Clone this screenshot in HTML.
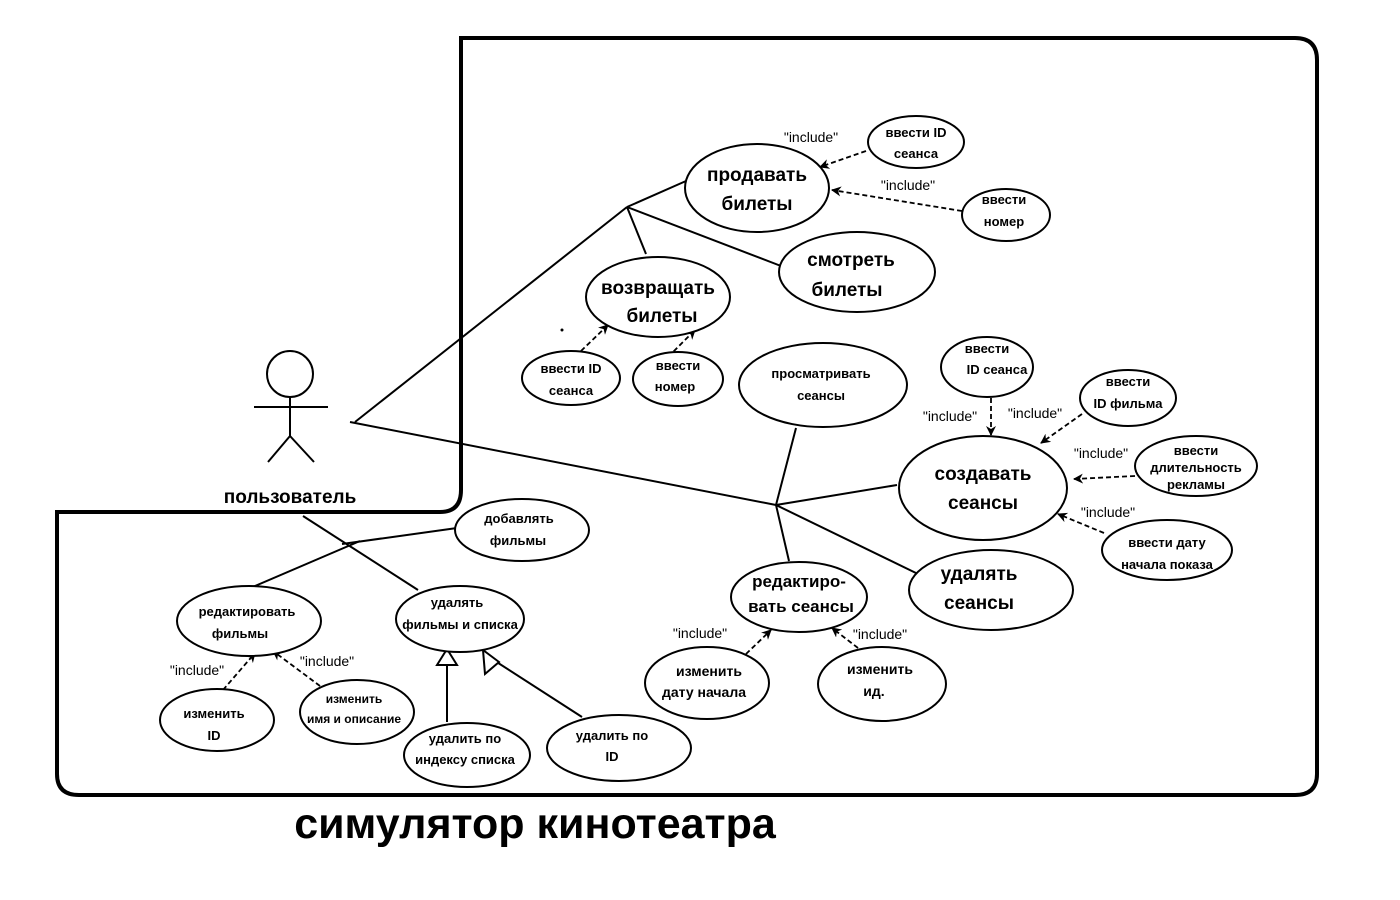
<!DOCTYPE html>
<html><head><meta charset="utf-8"><style>
html,body{margin:0;padding:0;background:#fff;}
svg{display:block;}
text{font-family:"Liberation Sans","DejaVu Sans",sans-serif;fill:#000;text-anchor:middle;font-weight:bold;}
.s{font-size:13px;}
.m{font-size:14px;}
.l{font-size:19px;}
.i{font-size:14px;font-weight:normal;}
ellipse{fill:#fff;stroke:#000;stroke-width:2;}
.ln{stroke:#000;stroke-width:2;fill:none;}
.d{stroke:#000;stroke-width:1.8;fill:none;stroke-dasharray:5,3;}
</style></head><body>
<svg width="1400" height="900" viewBox="0 0 1400 900" xmlns="http://www.w3.org/2000/svg">
<defs>
<marker id="a" markerWidth="10" markerHeight="10" refX="9" refY="5" orient="auto" markerUnits="userSpaceOnUse"><path d="M0,0 L10,5 L0,10 L3,5 Z" fill="#000"/></marker>
</defs>
<path d="M461,38 L1295,38 Q1317,38 1317,60 L1317,774 Q1317,795 1295,795 L79,795 Q57,795 57,774 L57,512 L440,512 Q461,512 461,490 Z" fill="none" stroke="#000" stroke-width="4"/>
<!-- actor -->
<circle cx="290" cy="374" r="23" fill="#fff" stroke="#000" stroke-width="2"/>
<line class="ln" x1="290" y1="397" x2="290" y2="436"/>
<line class="ln" x1="254" y1="407" x2="328" y2="407"/>
<line class="ln" x1="290" y1="436" x2="268" y2="462"/>
<line class="ln" x1="290" y1="436" x2="314" y2="462"/>
<text x="290" y="503" class="l">пользователь</text>
<!-- association lines -->
<line class="ln" x1="355" y1="422" x2="627" y2="207"/>
<line class="ln" x1="627" y1="207" x2="686" y2="181"/>
<line class="ln" x1="627" y1="207" x2="646" y2="254"/>
<line class="ln" x1="627" y1="207" x2="781" y2="266"/>
<line class="ln" x1="350" y1="422" x2="776" y2="505"/>
<line class="ln" x1="776" y1="505" x2="796" y2="428"/>
<line class="ln" x1="776" y1="505" x2="897" y2="485"/>
<line class="ln" x1="776" y1="505" x2="918" y2="574"/>
<line class="ln" x1="776" y1="505" x2="789" y2="561"/>
<line class="ln" x1="303" y1="516" x2="418" y2="590"/>
<line class="ln" x1="342" y1="544" x2="457" y2="528"/>
<line class="ln" x1="360" y1="541" x2="248" y2="589"/>
<!-- generalization -->
<line class="ln" x1="447" y1="722" x2="447" y2="652"/>
<path d="M437,665 L447,649 L457,665 Z" fill="#fff" stroke="#000" stroke-width="2"/>
<line class="ln" x1="582" y1="717" x2="492" y2="659"/>
<path d="M485,674 L483,650 L499,662 Z" fill="#fff" stroke="#000" stroke-width="2"/>
<!-- dashed -->
<line class="d" x1="866" y1="151" x2="820" y2="167" marker-end="url(#a)"/>
<line class="d" x1="962" y1="211" x2="832" y2="190" marker-end="url(#a)"/>
<line class="d" x1="581" y1="351" x2="608" y2="325" marker-end="url(#a)"/>
<line class="d" x1="668" y1="357" x2="695" y2="330" marker-end="url(#a)"/>
<line class="d" x1="991" y1="398" x2="991" y2="435" marker-end="url(#a)"/>
<line class="d" x1="1082" y1="414" x2="1041" y2="443" marker-end="url(#a)"/>
<line class="d" x1="1135" y1="476" x2="1074" y2="479" marker-end="url(#a)"/>
<line class="d" x1="1104" y1="533" x2="1058" y2="514" marker-end="url(#a)"/>
<line class="d" x1="746" y1="654" x2="771" y2="630" marker-end="url(#a)"/>
<line class="d" x1="858" y1="648" x2="832" y2="628" marker-end="url(#a)"/>
<line class="d" x1="223" y1="690" x2="255" y2="653" marker-end="url(#a)"/>
<line class="d" x1="320" y1="686" x2="273" y2="651" marker-end="url(#a)"/>
<!-- include labels -->
<text x="811" y="142" class="i">"include"</text>
<text x="908" y="190" class="i">"include"</text>
<text x="950" y="421" class="i">"include"</text>
<text x="1035" y="418" class="i">"include"</text>
<text x="1101" y="458" class="i">"include"</text>
<text x="1108" y="517" class="i">"include"</text>
<text x="700" y="638" class="i">"include"</text>
<text x="880" y="639" class="i">"include"</text>
<text x="197" y="675" class="i">"include"</text>
<text x="327" y="666" class="i">"include"</text>
<circle cx="562" cy="330" r="1.5" fill="#000"/>
<!-- ellipses -->
<ellipse cx="757" cy="188" rx="72" ry="44"/>
<text x="757" y="181" class="l">продавать</text><text x="757" y="210" class="l">билеты</text>
<ellipse cx="916" cy="142" rx="48" ry="26"/>
<text x="916" y="137" class="s">ввести ID</text><text x="916" y="158" class="s">сеанса</text>
<ellipse cx="1006" cy="215" rx="44" ry="26"/>
<text x="1004" y="204" class="s">ввести</text><text x="1004" y="226" class="s">номер</text>
<ellipse cx="857" cy="272" rx="78" ry="40"/>
<text x="851" y="266" class="l">смотреть</text><text x="847" y="296" class="l">билеты</text>
<ellipse cx="658" cy="297" rx="72" ry="40"/>
<text x="658" y="294" class="l">возвращать</text><text x="662" y="322" class="l">билеты</text>
<ellipse cx="571" cy="378" rx="49" ry="27"/>
<text x="571" y="373" class="s">ввести ID</text><text x="571" y="395" class="s">сеанса</text>
<ellipse cx="678" cy="379" rx="45" ry="27"/>
<text x="678" y="370" class="s">ввести</text><text x="675" y="391" class="s">номер</text>
<ellipse cx="823" cy="385" rx="84" ry="42"/>
<text x="821" y="378" class="s">просматривать</text><text x="821" y="400" class="s">сеансы</text>
<ellipse cx="987" cy="367" rx="46" ry="30"/>
<text x="987" y="353" class="s">ввести</text><text x="997" y="374" class="s">ID сеанса</text>
<ellipse cx="1128" cy="398" rx="48" ry="28"/>
<text x="1128" y="386" class="s">ввести</text><text x="1128" y="408" class="s">ID фильма</text>
<ellipse cx="983" cy="488" rx="84" ry="52"/>
<text x="983" y="480" class="l">создавать</text><text x="983" y="509" class="l">сеансы</text>
<ellipse cx="1196" cy="466" rx="61" ry="30"/>
<text x="1196" y="455" class="s">ввести</text><text x="1196" y="472" class="s">длительность</text><text x="1196" y="489" class="s">рекламы</text>
<ellipse cx="1167" cy="550" rx="65" ry="30"/>
<text x="1167" y="547" class="s">ввести дату</text><text x="1167" y="569" class="s">начала показа</text>
<ellipse cx="991" cy="590" rx="82" ry="40"/>
<text x="979" y="580" class="l">удалять</text><text x="979" y="609" class="l">сеансы</text>
<ellipse cx="799" cy="597" rx="68" ry="35"/>
<text x="799" y="587" class="m" style="font-size:17px">редактиро-</text><text x="801" y="612" class="m" style="font-size:17px">вать сеансы</text>
<ellipse cx="707" cy="683" rx="62" ry="36"/>
<text x="709" y="676" class="s" style="font-size:14px">изменить</text><text x="704" y="697" class="s" style="font-size:14px">дату начала</text>
<ellipse cx="882" cy="684" rx="64" ry="37"/>
<text x="880" y="674" class="s" style="font-size:14px">изменить</text><text x="874" y="696" class="s" style="font-size:14px">ид.</text>
<ellipse cx="522" cy="530" rx="67" ry="31"/>
<text x="519" y="523" class="s">добавлять</text><text x="518" y="545" class="s">фильмы</text>
<ellipse cx="249" cy="621" rx="72" ry="35"/>
<text x="247" y="616" class="s">редактировать</text><text x="240" y="638" class="s">фильмы</text>
<ellipse cx="460" cy="619" rx="64" ry="33"/>
<text x="457" y="607" class="s">удалять</text><text x="460" y="629" class="s">фильмы и списка</text>
<ellipse cx="217" cy="720" rx="57" ry="31"/>
<text x="214" y="718" class="s">изменить</text><text x="214" y="740" class="s">ID</text>
<ellipse cx="357" cy="712" rx="57" ry="32"/>
<text x="354" y="703" class="s" style="font-size:12px">изменить</text><text x="354" y="723" class="s" style="font-size:12px">имя и описание</text>
<ellipse cx="467" cy="755" rx="63" ry="32"/>
<text x="465" y="743" class="s">удалить по</text><text x="465" y="764" class="s">индексу списка</text>
<ellipse cx="619" cy="748" rx="72" ry="33"/>
<text x="612" y="740" class="s">удалить по</text><text x="612" y="761" class="s">ID</text>
<text x="535" y="838" style="font-size:43px;font-weight:bold;">симулятор кинотеатра</text>
</svg>
</body></html>
